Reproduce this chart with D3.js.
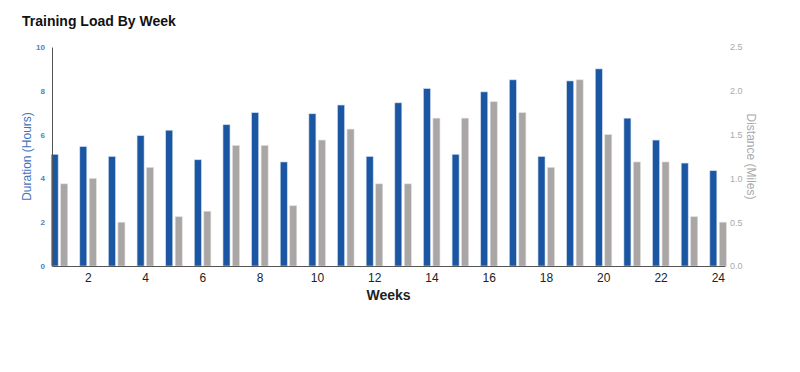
<!DOCTYPE html>
<html>
<head>
<meta charset="utf-8">
<script src="https://cdn.jsdelivr.net/npm/d3@7"></script>
<style>
  body { margin: 0; background: #fff; font-family: "Liberation Sans", Arial, sans-serif; }
</style>
</head>
<body>
<script>
// データ
var weeks = d3.range(1, 25);
var durationHours = [5.1, 5.45, 5.0, 5.95, 6.2, 4.85, 6.45, 7.0, 4.75, 6.95, 7.35, 5.0,
                     7.45, 8.1, 5.1, 7.95, 8.5, 5.0, 8.45, 9.0, 6.75, 5.75, 4.7, 4.35];
var distanceMiles = [0.9375, 1.0, 0.5, 1.125, 0.5625, 0.625, 1.375, 1.375, 0.6875, 1.4375, 1.5625, 0.9375,
                     0.9375, 1.6875, 1.6875, 1.875, 1.75, 1.125, 2.125, 1.5, 1.1875, 1.1875, 0.5625, 0.5];
var xTicks = [2, 4, 6, 8, 10, 12, 14, 16, 18, 20, 22, 24];
var leftTicks = [0, 2, 4, 6, 8, 10];
var rightTicks = [0, 0.5, 1.0, 1.5, 2.0, 2.5];

var fullWidth = 800, fullHeight = 372;
// プロット領域
var plotLeft = 52, plotRight = 725, plotTop = 47, plotBottom = 266;

var svg = d3.select("body").append("svg")
    .attr("width", fullWidth)
    .attr("height", fullHeight);

// スケール
var x = d3.scaleLinear().domain([0.75, 24.25]).range([plotLeft, plotRight]);
var yL = d3.scaleLinear().domain([0, 10]).range([plotBottom, plotTop]);
var yR = d3.scaleLinear().domain([0, 2.5]).range([plotBottom, plotTop]);

var barW = 7;

// 表題
svg.append("text")
    .attr("x", 22).attr("y", 26)
    .attr("font-size", 14).attr("font-weight", "bold")
    .attr("fill", "#111")
    .text("Training Load By Week");

// 棒（時間）
svg.append("g").selectAll("rect")
    .data(weeks)
    .join("rect")
    .attr("x", (d) => x(d) - barW - 1)
    .attr("y", (d, i) => yL(durationHours[i]))
    .attr("width", barW)
    .attr("height", (d, i) => yL(0) - yL(durationHours[i]))
    .attr("fill", "#1b56a2")
    .attr("stroke", "#c9d9ee").attr("stroke-width", 0.6);

// 棒（距離）
svg.append("g").selectAll("rect")
    .data(weeks)
    .join("rect")
    .attr("x", (d) => x(d) + 1.5)
    .attr("y", (d, i) => yR(distanceMiles[i]))
    .attr("width", barW)
    .attr("height", (d, i) => yR(0) - yR(distanceMiles[i]))
    .attr("fill", "#aaa6a5")
    .attr("stroke", "#dedcdb").attr("stroke-width", 0.6);

// X軸
var gx = svg.append("g")
    .attr("transform", "translate(0," + plotBottom + ")")
    .call(d3.axisBottom(x).tickValues(xTicks).tickSize(0).tickPadding(7).tickSizeOuter(0));
gx.select(".domain").attr("stroke", "#555");
gx.selectAll("text").attr("font-size", 12).attr("fill", "#222")
    .attr("font-family", "Liberation Sans, Arial, sans-serif");

// 左Y軸
var gl = svg.append("g")
    .attr("transform", "translate(" + plotLeft + ",0)")
    .call(d3.axisLeft(yL).tickValues(leftTicks).tickSize(0).tickPadding(7).tickSizeOuter(0));
gl.select(".domain").attr("stroke", "#555");
gl.selectAll("text").attr("font-size", 8).attr("font-weight", "bold").attr("fill", "#4f80c6")
    .attr("font-family", "Liberation Sans, Arial, sans-serif");

// 右Y軸
var gr = svg.append("g")
    .attr("transform", "translate(" + plotRight + ",0)")
    .call(d3.axisRight(yR).tickValues(rightTicks).tickFormat(d3.format(".1f")).tickSize(0).tickPadding(5).tickSizeOuter(0));
gr.select(".domain").remove();
gr.selectAll("text").attr("font-size", 9).attr("fill", "#aaa")
    .attr("font-family", "Liberation Sans, Arial, sans-serif");

// 軸ラベル
svg.append("text")
    .attr("x", (plotLeft + plotRight) / 2).attr("y", 300)
    .attr("text-anchor", "middle")
    .attr("font-size", 14).attr("font-weight", "bold").attr("fill", "#222")
    .text("Weeks");

svg.append("text")
    .attr("transform", "translate(31," + ((plotTop + plotBottom) / 2) + ") rotate(-90)")
    .attr("text-anchor", "middle")
    .attr("font-size", 12).attr("fill", "#3f72bd")
    .text("Duration (Hours)");

svg.append("text")
    .attr("transform", "translate(747," + ((plotTop + plotBottom) / 2) + ") rotate(90)")
    .attr("text-anchor", "middle")
    .attr("font-size", 12).attr("fill", "#aaa")
    .text("Distance (Miles)");
</script>
</body>
</html>
